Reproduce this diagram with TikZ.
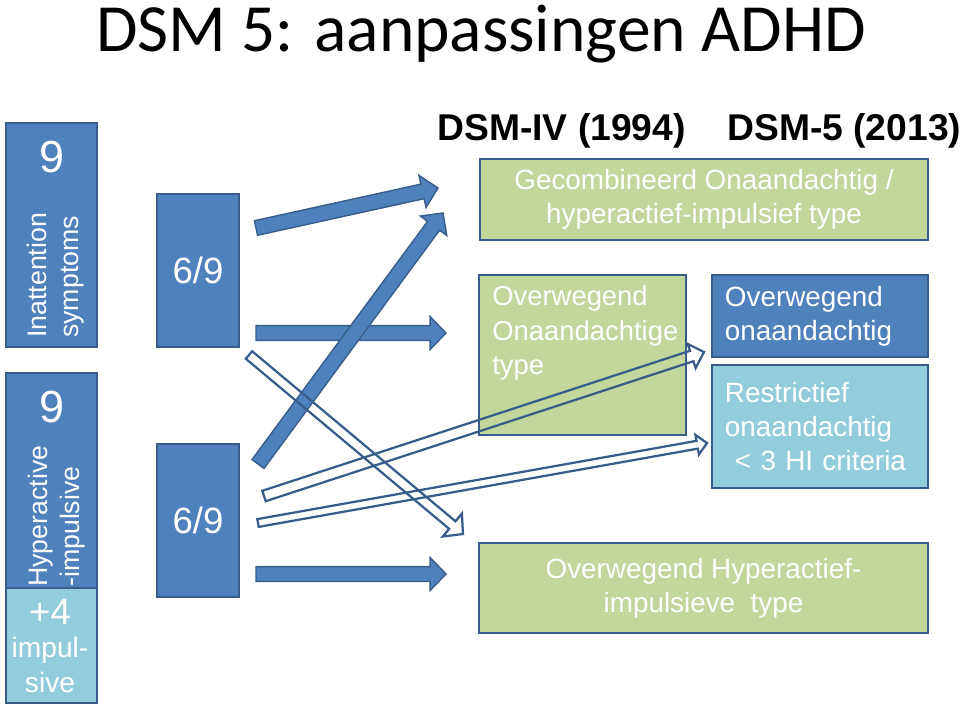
\documentclass[tikz,border=0pt]{standalone}
\usepackage{fontspec}
\setmainfont{Liberation Sans}
\newfontfamily\titlefont{Carlito}
\usepackage{xcolor}
\usepackage{tikz}
\usetikzlibrary{calc}

\definecolor{dsmblue}{HTML}{4F81BD}
\definecolor{dsmedge}{HTML}{385D8A}
\definecolor{dsmgreen}{HTML}{C3D69B}
\definecolor{dsmlight}{HTML}{93CDDD}

\tikzset{
  bluebox/.style={rectangle, draw=dsmedge, fill=dsmblue, line width=1.4pt, text=white, inner sep=0pt},
  lightbox/.style={rectangle, draw=dsmedge, fill=dsmlight, line width=1.4pt, text=white, inner sep=0pt},
  greenbox/.style={rectangle, draw=dsmedge, fill=dsmgreen, line width=1.6pt, text=white, inner sep=0pt},
  boxtext/.style={font=\fontsize{19.8}{24}\selectfont},
  solidarrow/.style={fill=dsmblue, draw=dsmedge, line width=1pt, line join=miter},
  openarrow/.style={draw=dsmedge, line width=1.6pt, line join=miter}
}

% block arrow: tail, tip, half shaft, half head, head length, style
\newcommand{\blockarrow}[6]{%
  \coordinate (hb) at ($(#2)!#5!(#1)$);
  \draw[#6] ($(#1)!#3!90:(#2)$) -- ($(hb)!#3!90:(#2)$) -- ($(hb)!#4!90:(#2)$) -- (#2)
    -- ($(hb)!#4!-90:(#2)$) -- ($(hb)!#3!-90:(#2)$) -- ($(#1)!#3!-90:(#2)$) -- cycle;
}

\begin{document}
\begin{tikzpicture}[x=0.025cm, y=-0.025cm]
\useasboundingbox (0,0) rectangle (960,712);

% title and column heads
\node[anchor=base, inner sep=0pt, font=\titlefont\fontsize{48}{56}\selectfont] (title) at (481,51) {DSM 5: aanpassingen ADHD};
\node[anchor=base west, inner sep=0pt, font=\bfseries\fontsize{26.5}{30}\selectfont] (oldhead) at (437,140) {DSM-IV (1994)};
\node[anchor=base west, inner sep=0pt, font=\bfseries\fontsize{26.5}{30}\selectfont] (newhead) at (727,140) {DSM-5 (2013)};

% symptom columns
\node[bluebox, minimum width=2.275cm, minimum height=5.6cm] (inatt) at (51.5,235) {};
\node[text=white, font=\fontsize{32}{36}\selectfont] (inattnum) at (52,157) {9};
\node[rotate=90, anchor=west, align=left, inner sep=0pt, text=white, font=\fontsize{19}{22.7}\selectfont] (inatttxt) at (56,338) {Inattention\\symptoms};

\node[bluebox, minimum width=2.275cm, minimum height=5.375cm] (hyper) at (51.5,480.5) {};
\node[text=white, font=\fontsize{32}{36}\selectfont] (hypernum) at (52,407) {9};
\node[rotate=90, anchor=west, align=left, inner sep=0pt, text=white, font=\fontsize{19}{22.7}\selectfont] (hypertxt) at (57,587) {Hyperactive\\-impulsive};

\node[lightbox, minimum width=2.275cm, minimum height=2.875cm] (impul) at (51.5,645.5) {};
\node[text=white, font=\fontsize{26}{30}\selectfont] (impulnum) at (50,612) {+4};
\node[align=center, text=white, font=\fontsize{20}{24.8}\selectfont] (impultxt) at (50,665) {impul-\\sive};

% thresholds
\node[bluebox, minimum width=2.05cm, minimum height=3.825cm, font=\fontsize{26}{30}\selectfont] (inattcut) at (198,270.5) {6/9};
\node[bluebox, minimum width=2.05cm, minimum height=3.825cm, font=\fontsize{26}{30}\selectfont] (hypercut) at (198,520.5) {6/9};

% subtypes
\node[greenbox, boxtext, align=center, minimum width=11.2cm, minimum height=2.025cm] (combined) at (704,199.5) {Gecombineerd Onaandachtig /\\hyperactief-impulsief type};
\node[greenbox, minimum width=5.175cm, minimum height=4cm] (inattype) at (582.5,355) {};
\node[anchor=north west, align=left, inner sep=0pt, text=white, font=\fontsize{19.5}{24.8}\selectfont] (inattypetxt) at (492,285) {Overwegend\\Onaandachtige\\type};
\node[bluebox, boxtext, align=left, text width=4.75cm, inner xsep=0.325cm, minimum height=2.05cm] (inatnew) at (820,316) {Overwegend\\onaandachtig};
\node[lightbox, boxtext, align=left, text width=4.75cm, inner xsep=0.325cm, minimum height=3.075cm] (restrict) at (820,426.5) {Restrictief\\onaandachtig\\\hspace*{0.25cm}< 3 HI criteria};
\node[greenbox, boxtext, align=center, minimum width=11.225cm, minimum height=2.25cm] (hypertype) at (703.5,588) {Overwegend Hyperactief-\\impulsieve\ \ type};

% arrow ends
\coordinate (a1s) at (256,228);  \coordinate (a1e) at (438,188);
\coordinate (a2s) at (258,464);  \coordinate (a2e) at (443,213);
\coordinate (a3s) at (256,333);  \coordinate (a3e) at (446,333);
\coordinate (a4s) at (256,574);  \coordinate (a4e) at (446,574);
\coordinate (b1s) at (249,355);  \coordinate (b1e) at (463,534);
\coordinate (b2s) at (264,496);  \coordinate (b2e) at (704,352);
\coordinate (b3s) at (258,523);  \coordinate (b3e) at (707,443);

\blockarrow{a1s}{a1e}{5.3pt}{11.7pt}{11.3pt}{solidarrow}
\blockarrow{a3s}{a3e}{5.3pt}{11.7pt}{11.3pt}{solidarrow}
\blockarrow{a2s}{a2e}{5.3pt}{11.7pt}{11.3pt}{solidarrow}
\blockarrow{a4s}{a4e}{5.3pt}{11.7pt}{11.3pt}{solidarrow}
\blockarrow{b1s}{b1e}{3.5pt}{10.6pt}{9.9pt}{openarrow}
\blockarrow{b2s}{b2e}{3.9pt}{9pt}{9.2pt}{openarrow}
\blockarrow{b3s}{b3e}{2.8pt}{7.1pt}{7.1pt}{openarrow}
\end{tikzpicture}
\end{document}
